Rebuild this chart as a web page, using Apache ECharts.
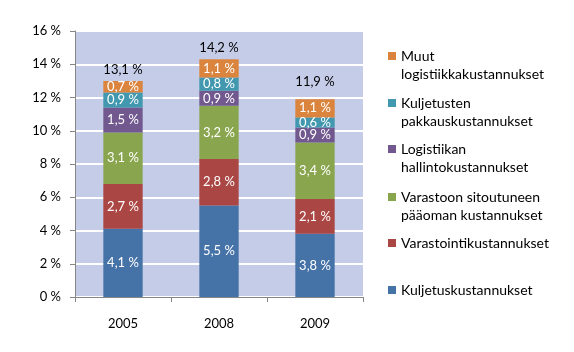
<!DOCTYPE html>
<html>
<head>
<meta charset="utf-8">
<script src="https://cdn.jsdelivr.net/npm/echarts@6/dist/echarts.min.js"></script>
<style>
html, body { margin: 0; padding: 0; background: #fff; }
#chart { width: 574px; height: 352px; }
</style>
</head>
<body>
<div id="chart"></div>
<script>
var years = ['2005', '2008', '2009'];
// series from bottom of the stack to top
var names = [
	'Kuljetuskustannukset',
	'Varastointikustannukset',
	'Varastoon sitoutuneen\npääoman kustannukset',
	'Logistiikan\nhallintokustannukset',
	'Kuljetusten\npakkauskustannukset',
	'Muut\nlogistiikkakustannukset'
];
var kuljetus = [4.1, 5.5, 3.8];
var varastointi = [2.7, 2.8, 2.1];
var paaoma = [3.1, 3.2, 3.4];
var hallinto = [1.5, 0.9, 0.9];
var pakkaus = [0.9, 0.8, 0.6];
var muut = [0.7, 1.1, 1.1];
var totals = [13.1, 14.2, 11.9];
var yTicks = [0, 2, 4, 6, 8, 10, 12, 14, 16];

var colors = ['#4572A7', '#AA4643', '#89A54E', '#71588F', '#4198AF', '#DB843D'];
var values = [kuljetus, varastointi, paaoma, hallinto, pakkaus, muut];
var font = 'Lato, "Open Sans", sans-serif';

function pct(v) {
	return v.toFixed(1).replace('.', ',') + ' %';
}

var chart = echarts.init(document.getElementById('chart'));

var series = [];
for (var i = 0; i < names.length; i++) {
	series.push({
		name: names[i],
		type: 'bar',
		stack: 'total',
		barWidth: '41%',
		itemStyle: { color: colors[i] },
		label: {
			show: true,
			position: 'inside',
			color: '#fff',
			fontFamily: font,
			fontSize: 13,
			formatter: function (p) { return pct(p.value); }
		},
		data: values[i]
	});
}
// zero-height bar on top of each stack that carries the total label
series.push({
	name: 'total',
	type: 'bar',
	stack: 'total',
	barWidth: '41%',
	itemStyle: { color: 'transparent' },
	label: {
		show: true,
		position: 'top',
		color: '#000',
		fontFamily: font,
		fontSize: 13,
		formatter: function (p) { return pct(totals[p.dataIndex]); }
	},
	data: [0, 0, {value: 0, label: {offset: [0, -6]}}]
});

// one legend per entry, listed top to bottom
var legendTops = [29, 76, 122, 170, 234, 281];
var legends = [];
for (var j = 0; j < names.length; j++) {
	var idx = names.length - 1 - j;
	legends.push({
		data: [names[idx]],
		left: 388,
		top: legendTops[j],
		padding: 0,
		itemWidth: 8,
		itemHeight: 8,
		itemGap: 0,
		selectedMode: false,
		icon: 'rect',
		// blank first line keeps the marker level with the first text line
		formatter: function (n) { return n.indexOf('\n') >= 0 ? ' \n' + n : n; },
		textStyle: {
			fontFamily: font,
			fontSize: 14,
			color: '#000',
			lineHeight: 18
		}
	});
}

chart.setOption({
	animation: false,
	legend: legends,
	grid: {
		left: 75,
		right: 211,
		top: 31,
		bottom: 55,
		show: true,
		backgroundColor: '#C5CCE8',
		borderWidth: 0
	},
	xAxis: {
		type: 'category',
		data: years,
		axisLine: { lineStyle: { color: '#868686' } },
		axisTick: { show: true, length: 5, lineStyle: { color: '#868686' } },
		axisLabel: { color: '#000', fontFamily: font, fontSize: 13, margin: 20 }
	},
	yAxis: {
		type: 'value',
		min: yTicks[0],
		max: yTicks[yTicks.length - 1],
		interval: 2,
		axisLine: { show: true, lineStyle: { color: '#868686' } },
		axisTick: { show: true, length: 5, lineStyle: { color: '#868686' } },
		axisLabel: {
			color: '#000', fontFamily: font, fontSize: 13, margin: 14,
			formatter: function (v) { return v + ' %'; }
		},
		splitLine: { lineStyle: { color: '#fff', width: 2 } }
	},
	series: series
});
</script>
</body>
</html>
